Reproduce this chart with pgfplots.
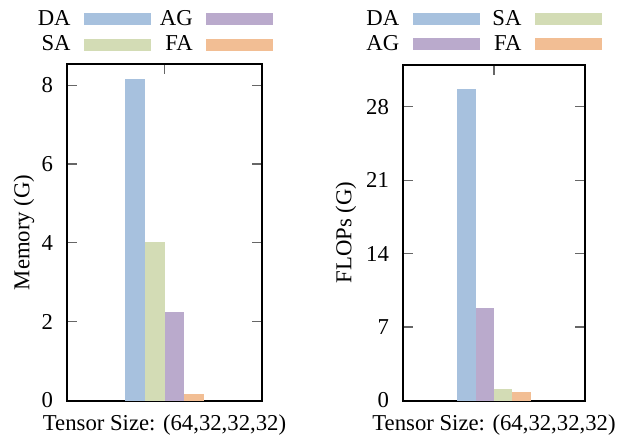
\documentclass[border=0pt]{standalone}
\usepackage{pgfplots}
\pgfplotsset{compat=1.18}
\usepackage{fontspec}
\setmainfont{Liberation Serif}
\definecolor{cDA}{RGB}{167,193,222}
\definecolor{cSA}{RGB}{211,220,181}
\definecolor{cAG}{RGB}{186,170,204}
\definecolor{cFA}{RGB}{242,190,148}
\pgfplotsset{
  panel/.style={
    scale only axis,
    font=\fontsize{11.4}{13}\selectfont,
    /pgf/number format/assume math mode=true,
    ybar=0pt,
    xmin=-1, xmax=1,
    xtick={0}, xticklabels={},
    xtick pos=right,
    ytick pos=both,
    tick align=inside,
    major tick length=5bp,
    major tick style={draw=black!60, line width=0.6bp},
    axis line style={line width=1bp},
    ymin=0,
    yticklabel style={xshift=-3.5bp},
    legend plot pos=right,
    legend cell align=right,
    transpose legend,
    legend columns=2,
    legend image code/.code={\fill[##1,draw=none] (0bp,-3bp) rectangle (33.5bp,3bp);},
    legend style={draw=none, fill=none, inner sep=0pt, row sep=3.6bp,
      nodes={inner sep=0pt, text width=16.6bp, align=right},
      /tikz/every odd column/.append style={column sep=6.8bp},
      /tikz/every even column/.append style={column sep=4.2bp},
      at={(rel axis cs:0,1)}, anchor=north west},
    xlabel style={at={(rel axis cs:0.5,0)}, anchor=base, yshift=-15.1bp},
  }
}
\begin{document}
\begin{tikzpicture}
\useasboundingbox (0,0) rectangle (315.5bp,218bp);
% Memory
\begin{axis}[panel,
  at={(33.5bp,17.75bp)}, anchor=south west,
  width=97.5bp, height=168.1bp,
  ymax=8.53, ytick={0,2,4,6,8},
  bar width=9.8bp,
  xlabel={Tensor Size: (64,32,32,32)},
  ylabel={Memory (G)},
  ylabel style={at={(axis description cs:-0.2205,0.5)}, anchor=center},
  legend style={xshift=-15bp, yshift=27.2bp},
]
\addplot[fill=cDA, draw=none] coordinates {(0,8.16)};
\addplot[fill=cSA, draw=none] coordinates {(0,4.02)};
\addplot[fill=cAG, draw=none] coordinates {(0,2.25)};
\addplot[fill=cFA, draw=none] coordinates {(0,0.16)};
\legend{DA,SA,AG,FA}
\end{axis}
% FLOPs
\begin{axis}[panel,
  at={(201.5bp,17.75bp)}, anchor=south west,
  width=91bp, height=167.85bp,
  ymax=32, ytick={0,7,14,21,28},
  bar width=9.15bp,
  xlabel={Tensor Size: (64,32,32,32)},
  ylabel={FLOPs (G)},
  ylabel style={at={(axis description cs:-0.313,0.5)}, anchor=center},
  legend style={xshift=-18.65bp, yshift=27.5bp},
]
\addplot[fill=cDA, draw=none] coordinates {(0,29.7)};
\addplot[fill=cAG, draw=none] coordinates {(0,8.84)};
\addplot[fill=cSA, draw=none] coordinates {(0,1.12)};
\addplot[fill=cFA, draw=none] coordinates {(0,0.83)};
\legend{DA,AG,SA,FA}
\end{axis}
\end{tikzpicture}
\end{document}
